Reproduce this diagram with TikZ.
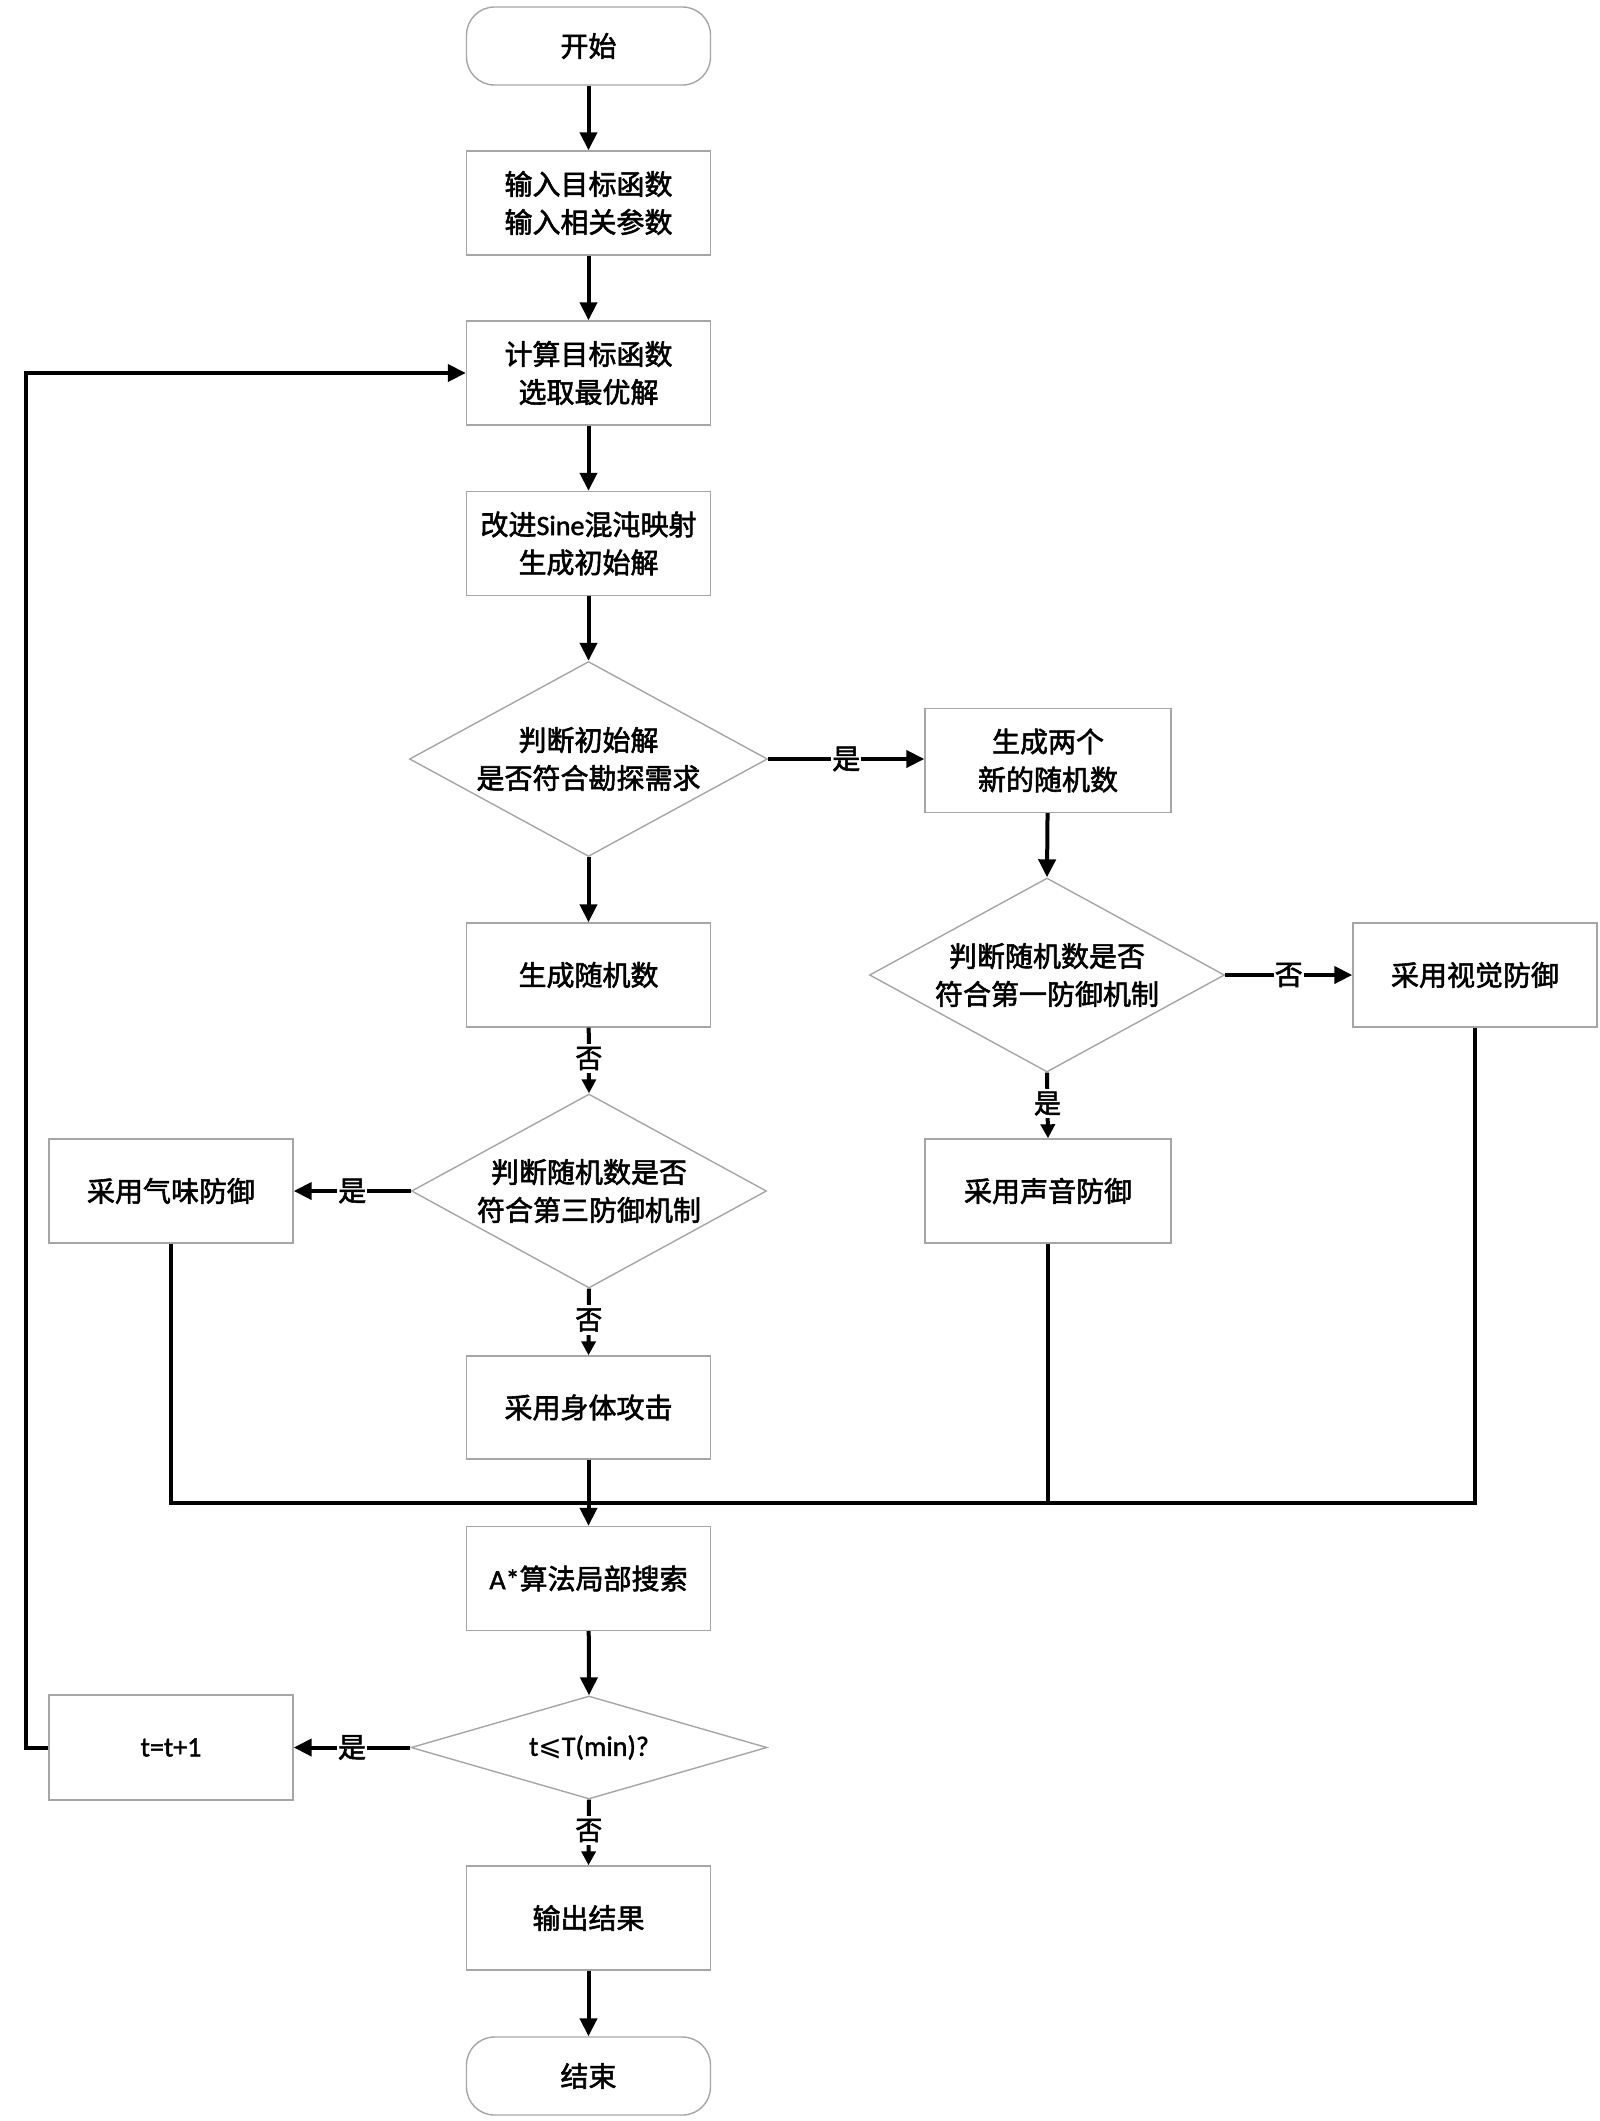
\documentclass[tikz,border=0pt]{standalone}
\usepackage{fontspec}
\setmainfont{Noto Sans CJK SC}[FakeBold=2]
\newfontfamily\lat{Carlito}[FakeBold=1.5]
\newfontfamily\sym{DejaVu Sans}
\usetikzlibrary{shapes.geometric,arrows.meta}
\begin{document}
\begin{tikzpicture}[x=1pt,y=-1pt,
  every node/.style={font=\fontsize{28}{38}\selectfont, align=center},
  box/.style={draw=black!35, line width=1.4pt, fill=white, rectangle, minimum width=244pt, minimum height=104pt, inner sep=0pt},
  term/.style={box, rounded corners=28pt, minimum height=78pt},
  dia/.style={draw=black!35, line width=1.4pt, fill=white, diamond, inner sep=0pt},
  conn/.style={line width=4pt, draw=black},
  arr/.style={conn, -{Triangle[length=18pt,width=17pt]}},
  sarr/.style={conn, -{Triangle[length=14pt,width=14pt]}},
  lab/.style={fill=white, inner sep=1pt, font=\fontsize{28}{30}\selectfont},
  vlab/.style={fill=white, inner xsep=2pt, inner ysep=3pt, font=\fontsize{27}{30}\selectfont}
]
\useasboundingbox (0,0) rectangle (1600,2121);
\fill[white] (0,0) rectangle (1600,2121);

\node[term] (start) at (588.5,46) {开始};
\node[box] (input) at (588.5,203) {输入目标函数\\输入相关参数};
\node[box] (calc) at (588.5,373) {计算目标函数\\选取最优解};
\node[box] (sine) at (588.5,543.5) {改进{\lat Sine}混沌映射\\生成初始解};
\node[dia, minimum width=358pt, minimum height=195pt, shape aspect=1.84] (d1) at (588.5,759) {判断初始解\\是否符合勘探需求};
\node[box, minimum width=246pt] (two) at (1048,760.5) {生成两个\\新的随机数};
\node[box] (rnd) at (588.5,975) {生成随机数};
\node[dia, minimum width=355pt, minimum height=194pt, shape aspect=1.83] (d2) at (1047,975) {判断随机数是否\\符合第一防御机制};
\node[box] (vis) at (1475,975) {采用视觉防御};
\node[dia, minimum width=355pt, minimum height=194pt, shape aspect=1.83] (d3) at (589,1191) {判断随机数是否\\符合第三防御机制};
\node[box] (smell) at (171,1191) {采用气味防御};
\node[box, minimum width=246pt] (sound) at (1048,1191) {采用声音防御};
\node[box, minimum height=103pt] (body) at (588.5,1407.5) {采用身体攻击};
\node[box] (astar) at (588.5,1578.5) {{\lat A*}算法局部搜索};
\node[dia, minimum width=356pt, minimum height=103pt, shape aspect=3.4] (d4) at (589,1747.5) {{\lat t}{\sym ⩽}{\lat T(min)?}};
\node[box, minimum height=105pt] (tt) at (171,1747.5) {\lat t=t+1};
\node[box] (out) at (588.5,1918) {输出结果};
\node[term] (end) at (588.5,2076) {结束};

\coordinate (loopx) at (25.5,0);
\coordinate (merge) at (0,1502.5);

\draw[arr] (start) -- (input);
\draw[arr] (input) -- (calc);
\draw[arr] (calc) -- (sine);
\draw[arr] (sine) -- (d1);
\draw[arr] (d1) -- (rnd);
\draw[arr] (d1.east) -- node[lab] (l1) {是} (two.west |- d1.east);
\draw[arr] (two) -- (d2.north);
\draw[arr] (d2.east) -- node[lab] (l2) {否} (vis.west |- d2.east);
\draw[sarr] (d2.south) -- node[vlab, pos=0.47] (l3) {是} (sound.north);
\draw[sarr] (rnd) -- node[vlab, pos=0.47] (l4) {否} (d3.north);
\draw[arr] (d3.west) -- node[lab] (l5) {是} (smell.east |- d3.west);
\draw[sarr] (d3.south) -- node[vlab, pos=0.47] (l6) {否} (body.north);
\draw[conn] (smell.south) -- (smell.south |- merge) -- (vis.south |- merge) -- (vis.south);
\draw[conn] (sound.south) -- (sound.south |- merge);
\draw[arr] (body) -- (astar);
\draw[arr] (astar) -- (d4.north);
\draw[arr] (d4.west) -- node[lab] (l7) {是} (tt.east |- d4.west);
\draw[sarr] (d4.south) -- node[vlab, pos=0.47] (l8) {否} (out.north);
\draw[arr] (out) -- (end);
\draw[arr] (tt.west) -- (tt.west -| loopx) -- (loopx |- calc.west) -- (calc.west);
\end{tikzpicture}
\end{document}
